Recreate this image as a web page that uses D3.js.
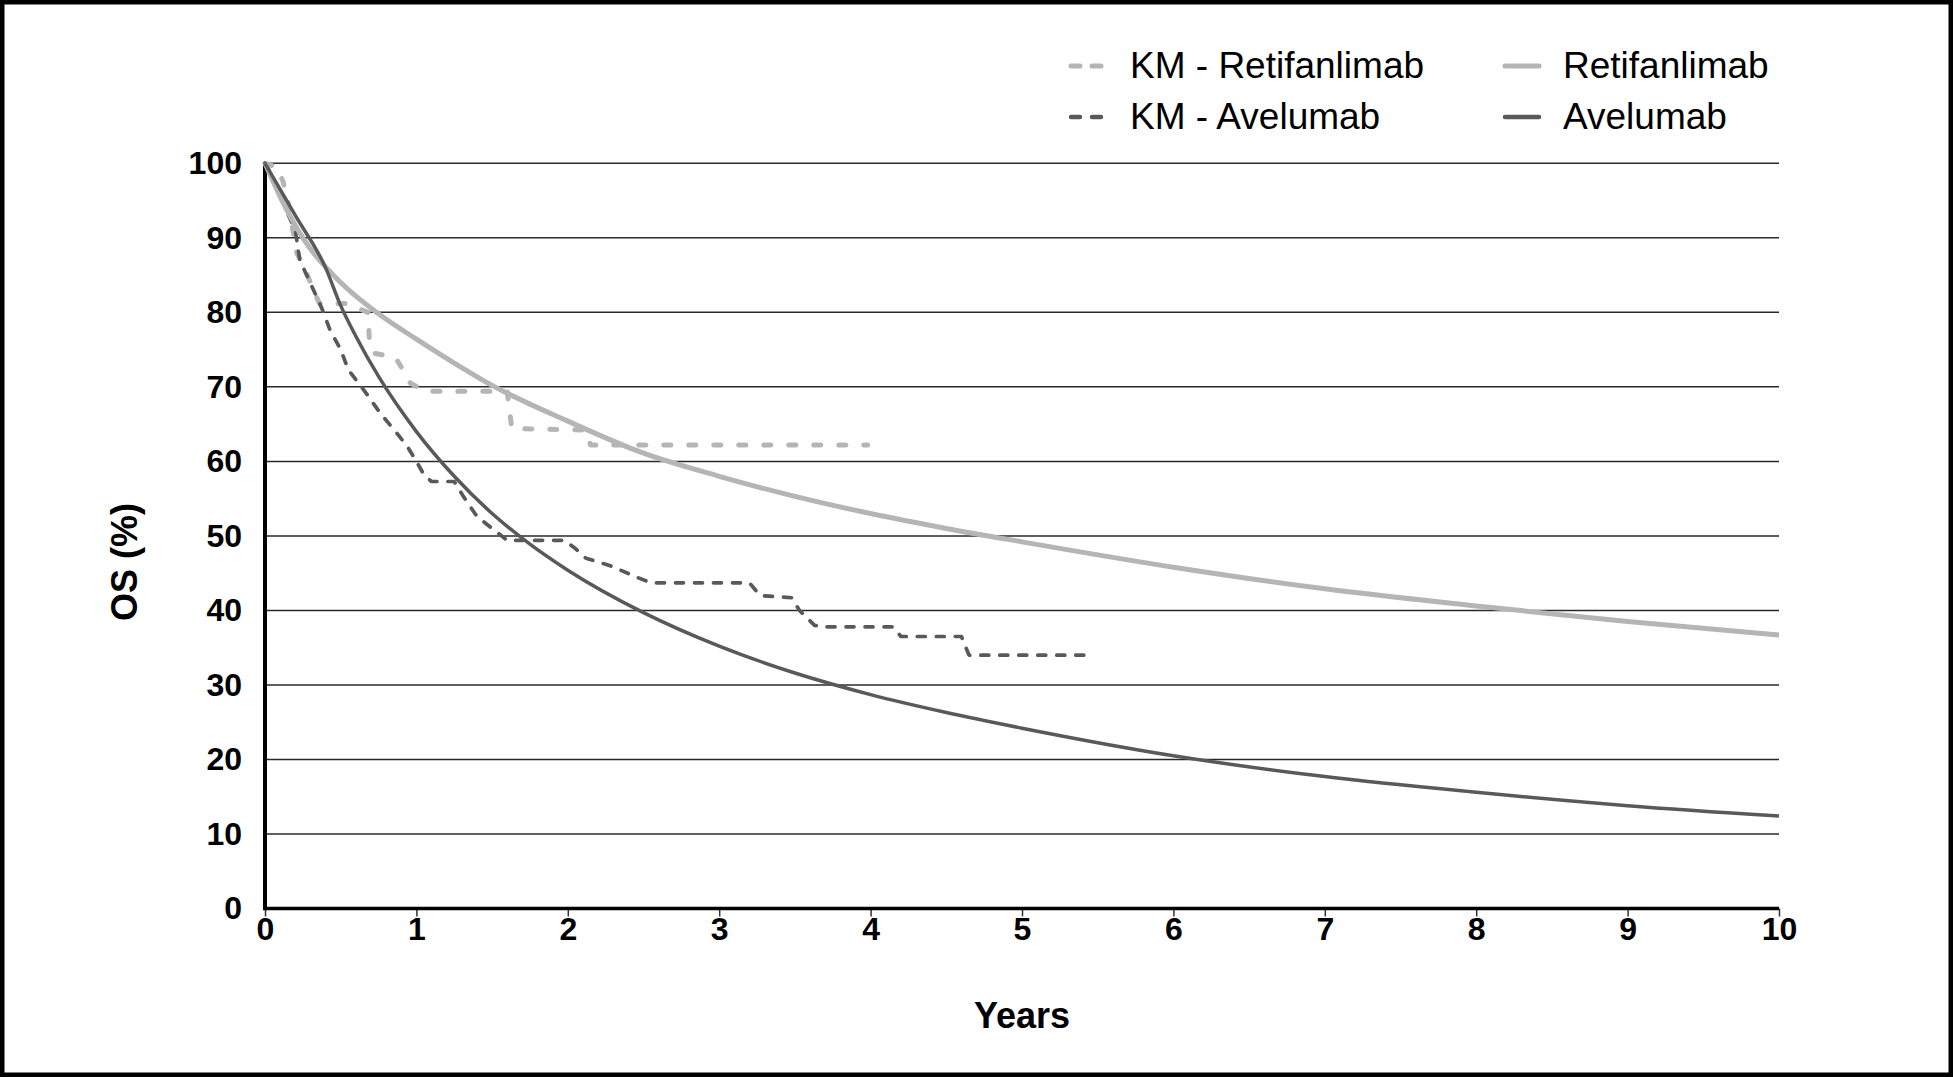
<!DOCTYPE html>
<html>
<head>
<meta charset="utf-8">
<script src="https://cdn.jsdelivr.net/npm/d3@7"></script>
<style>
  body { margin: 0; background: #fff; }
  svg { display: block; font-family: "Liberation Sans", Arial, Helvetica, sans-serif; }
</style>
</head>
<body>
<div id="chart"></div>
<script>
// ---- data ----
const xTicks = [0, 1, 2, 3, 4, 5, 6, 7, 8, 9, 10];
const yTicks = [0, 10, 20, 30, 40, 50, 60, 70, 80, 90, 100];

// fitted curves (years, OS %)
const retiYears = [0, 0.1, 0.25, 0.5, 0.75, 1, 1.25, 1.5, 2, 2.5, 3, 3.5, 4, 4.5, 5, 6, 7, 8, 9, 10];
const retiOS    = [100, 95.5, 90, 84, 79.8, 76.4, 73.2, 70.2, 65.4, 61.1, 58, 55.3, 53, 51, 49.2, 45.8, 42.9, 40.6, 38.5, 36.7];

const aveYears = [0, 0.2, 0.4, 0.5, 0.6, 0.75, 1, 1.25, 1.5, 1.75, 2, 2.5, 3, 3.5, 4, 4.5, 5, 6, 7, 8, 9, 10];
const aveOS    = [100, 93, 86, 80.9, 76.8, 71.4, 64, 58, 53, 48.9, 45.4, 39.7, 35.2, 31.6, 28.7, 26.3, 24.2, 20.5, 17.7, 15.6, 13.8, 12.4];

// Kaplan-Meier traces
const kmRetiYears = [0, 0.08, 0.12, 0.15, 0.18, 0.21, 0.28, 0.33, 0.36, 0.55, 0.62, 0.68, 0.69, 0.72, 0.86, 0.89, 0.96, 1.06, 1.6, 1.63, 2.12, 2.15, 3.98];
const kmRetiOS    = [100, 99.5, 97.5, 95, 91.5, 88, 85, 82.5, 81.2, 81.2, 80.5, 80, 76, 74.5, 74, 73, 70.5, 69.4, 69.4, 64.4, 64.2, 62.2, 62.2];

const kmAveYears = [0, 0.03, 0.07, 0.14, 0.2, 0.23, 0.3, 0.35, 0.38, 0.43, 0.5, 0.55, 0.67, 0.76, 0.87, 0.94, 1.0, 1.05, 1.1, 1.25, 1.31, 1.4, 1.5, 1.6, 1.98, 2.05, 2.12, 2.28, 2.45, 2.55, 3.2, 3.27, 3.48, 3.53, 3.63, 3.68, 4.15, 4.2, 4.6, 4.65, 5.48];
const kmAveOS    = [100, 99, 97.3, 93.7, 91, 87, 83.9, 81.7, 80.3, 77.6, 75, 72.3, 69.1, 66.5, 63.8, 62, 60, 58.2, 57.3, 57.3, 55.3, 52.6, 51, 49.4, 49.4, 48.3, 47, 46, 44.5, 43.7, 43.7, 42, 41.7, 40, 38, 37.8, 37.8, 36.5, 36.5, 34, 34];

const seriesNames = ["KM - Retifanlimab", "KM - Avelumab", "Retifanlimab", "Avelumab"];

// ---- layout ----
const W = 1953, H = 1077;
const plotLeft = 265, plotRight = 1779, plotTop = 163.3, plotBottom = 908.5;

const LIGHT = "#b5b5b5", DARK = "#595959";

const svg = d3.select("#chart").append("svg")
  .attr("xmlns", "http://www.w3.org/2000/svg")
  .attr("width", W)
  .attr("height", H);

svg.append("rect").attr("width", W).attr("height", H).attr("fill", "#fff");

const x = d3.scaleLinear().domain([0, 10]).range([plotLeft, plotRight]);
const y = d3.scaleLinear().domain([0, 100]).range([plotBottom, plotTop]);

// horizontal grid lines
svg.append("g")
  .selectAll("line")
  .data(yTicks.filter(d => d > 0))
  .join("line")
  .attr("x1", plotLeft).attr("x2", plotRight)
  .attr("y1", d => y(d)).attr("y2", d => y(d))
  .attr("stroke", "#2a2a2a")
  .attr("stroke-width", 1.5);

// y axis labels
const yAxis = svg.append("g")
  .attr("transform", `translate(${plotLeft},0)`)
  .call(d3.axisLeft(y).tickValues(yTicks).tickSize(0).tickPadding(23));
yAxis.select(".domain").remove();
yAxis.selectAll("text")
  .attr("font-size", 32).attr("font-weight", "bold").attr("fill", "#000")
  .attr("font-family", "Liberation Sans, Arial, sans-serif");

// x axis
const xAxis = svg.append("g")
  .attr("transform", `translate(0,${plotBottom})`)
  .call(d3.axisBottom(x).tickValues(xTicks).tickSize(8).tickPadding(1));
xAxis.select(".domain").remove();
xAxis.selectAll(".tick line").attr("stroke", "#333").attr("stroke-width", 1.5);
xAxis.selectAll("text")
  .attr("font-size", 32).attr("font-weight", "bold").attr("fill", "#000")
  .attr("font-family", "Liberation Sans, Arial, sans-serif");

// axis lines
svg.append("line")
  .attr("x1", x(0)).attr("x2", x(10)).attr("y1", y(0)).attr("y2", y(0))
  .attr("stroke", "#000").attr("stroke-width", 3.5);
svg.append("line")
  .attr("x1", x(0)).attr("x2", x(0)).attr("y1", y(0) + 1.75).attr("y2", y(100))
  .attr("stroke", "#000").attr("stroke-width", 4);

// series
const line = d3.line().x(d => x(d[0])).y(d => y(d[1]));
const smooth = d3.line().x(d => x(d[0])).y(d => y(d[1])).curve(d3.curveMonotoneX);

const zip = (a, b) => a.map((v, i) => [v, b[i]]);

svg.append("path")
  .datum(zip(kmRetiYears, kmRetiOS))
  .attr("d", line)
  .attr("fill", "none").attr("stroke", LIGHT).attr("stroke-width", 5)
  .attr("stroke-linecap", "round").attr("stroke-linejoin", "round")
  .attr("stroke-dasharray", "7,18");

svg.append("path")
  .datum(zip(kmAveYears, kmAveOS))
  .attr("d", line)
  .attr("fill", "none").attr("stroke", DARK).attr("stroke-width", 3.7)
  .attr("stroke-linecap", "round").attr("stroke-linejoin", "round")
  .attr("stroke-dasharray", "8,11");

svg.append("path")
  .datum(zip(retiYears, retiOS))
  .attr("d", smooth)
  .attr("fill", "none").attr("stroke", LIGHT).attr("stroke-width", 5);

svg.append("path")
  .datum(zip(aveYears, aveOS))
  .attr("d", smooth)
  .attr("fill", "none").attr("stroke", DARK).attr("stroke-width", 3.5);

// axis titles
svg.append("text")
  .attr("x", x(5)).attr("y", 1028)
  .attr("text-anchor", "middle")
  .attr("font-size", 36).attr("font-weight", "bold")
  .text("Years");

svg.append("text")
  .attr("transform", "translate(137,562) rotate(-90)")
  .attr("text-anchor", "middle")
  .attr("font-size", 36).attr("font-weight", "bold")
  .text("OS (%)");

// legend
const legend = [
  { name: seriesNames[0], color: LIGHT, width: 5, dash: "9,12", x0: 1071, x1: 1101, tx: 1130, row: 66 },
  { name: seriesNames[1], color: DARK, width: 4.5, dash: "9,12", x0: 1071, x1: 1101, tx: 1130, row: 117 },
  { name: seriesNames[2], color: LIGHT, width: 5, dash: null, x0: 1505, x1: 1539, tx: 1563, row: 66 },
  { name: seriesNames[3], color: DARK, width: 4.5, dash: null, x0: 1505, x1: 1539, tx: 1563, row: 117 }
];

const lg = svg.append("g").selectAll("g").data(legend).join("g");
lg.append("line")
  .attr("x1", d => d.x0).attr("x2", d => d.x1)
  .attr("y1", d => d.row).attr("y2", d => d.row)
  .attr("stroke", d => d.color).attr("stroke-width", d => d.width)
  .attr("stroke-linecap", "round")
  .attr("stroke-dasharray", d => d.dash);
lg.append("text")
  .attr("x", d => d.tx).attr("y", d => d.row + 12)
  .attr("font-size", 37).attr("fill", "#000")
  .text(d => d.name);

// frame
svg.append("rect")
  .attr("x", 2).attr("y", 2).attr("width", W - 4).attr("height", H - 4)
  .attr("fill", "none").attr("stroke", "#000").attr("stroke-width", 5);
</script>
</body>
</html>
